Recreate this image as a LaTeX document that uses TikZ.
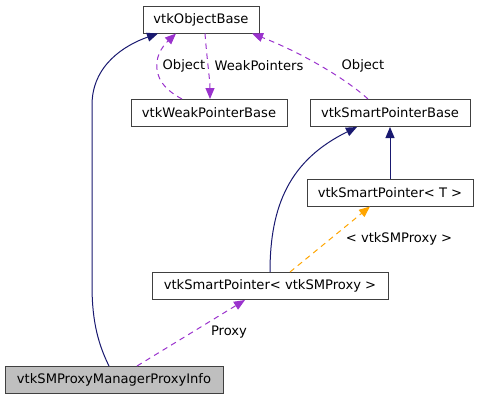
\documentclass[tikz,border=0pt]{standalone}
\usepackage{fontspec}
\setmainfont{DejaVu Sans}
\usetikzlibrary{arrows, arrows.meta}

\definecolor{inhcol}{HTML}{191970}
\definecolor{usecol}{HTML}{9A32CD}
\definecolor{tmplcol}{HTML}{FFA500}

\begin{document}
\begin{tikzpicture}[x=1pt, y=-1pt,
  box/.style={draw=black!75, fill=white, line width=1pt, inner sep=0pt, minimum height=27pt, font=\fontsize{13.1}{15}\selectfont},
  inh/.style={draw=inhcol, line width=1pt, -{Triangle[length=11pt, width=9pt]}},
  use/.style={draw=usecol, line width=1pt, dash pattern=on 5.5pt off 4.5pt, -{Triangle[length=11pt, width=9pt]}},
  tmpl/.style={draw=tmplcol, line width=1pt, dash pattern=on 5.5pt off 4.5pt, -{Triangle[length=11pt, width=9pt]}},
  lbl/.style={inner sep=1pt, font=\fontsize{13.1}{15}\selectfont}]
  \useasboundingbox (0,0) rectangle (479,400);

  \node[box, minimum width=116pt] (1) at (201,19.5) {vtkObjectBase};
  \node[box, minimum width=156pt] (2) at (209,113) {vtkWeakPointerBase};
  \node[box, minimum width=160pt] (3) at (390,113) {vtkSmartPointerBase};
  \node[box, minimum width=166pt] (4) at (390,192.5) {vtkSmartPointer< T >};
  \node[box, minimum width=236pt] (5) at (270,286) {vtkSmartPointer< vtkSMProxy >};
  \node[box, minimum width=218pt, fill=black!25] (6) at (114,380) {vtkSMProxyManagerProxyInfo};

  \draw[inh] ([xshift=-5pt]6.north) .. controls (96,340) and (92,315) .. (92,285) -- (92,105)
    .. controls (92,65) and (125,45) .. ([xshift=-43pt]1.south);
  \draw[use] ([xshift=-27pt]2.north) .. controls (165,90) and (155,78) .. (157,62)
    .. controls (158,50) and (168,41) .. ([xshift=-25pt]1.south);
  \draw[use] ([xshift=4pt]1.south) .. controls (207,60) and (210,80) .. ([xshift=1pt]2.north);
  \draw[use] ([xshift=-22pt]3.north) .. controls (345,78) and (300,52) .. ([xshift=51pt]1.south);
  \draw[inh] (5.north) .. controls (270,205) and (290,160) .. ([xshift=-33pt]3.south);
  \draw[inh] (4.north) -- (3.south);
  \draw[tmpl] ([xshift=20pt]5.north) -- ([xshift=-20pt]4.south);
  \draw[use] ([xshift=23pt]6.north) -- ([xshift=-25pt]5.south);

  \node[lbl] (l1) at (184,66) {Object};
  \node[lbl] (l2) at (259,66) {WeakPointers};
  \node[lbl] (l3) at (363,66) {Object};
  \node[lbl] (l4) at (399,239) {< vtkSMProxy >};
  \node[lbl] (l5) at (229,332) {Proxy};
\end{tikzpicture}
\end{document}
